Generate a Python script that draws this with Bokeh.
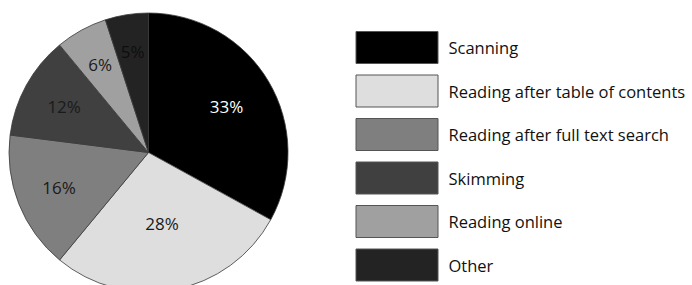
import math
from bokeh.plotting import figure
from bokeh.models import Range1d, ColumnDataSource
from bokeh.core.properties import value
from bokeh.embed import file_html
from bokeh.resources import INLINE

# ---- data ----
categories = ["Scanning", "Reading after table of contents", "Reading after full text search",
              "Skimming", "Reading online", "Other"]
shares = [33, 28, 16, 12, 6, 5]
colors = ["#000000", "#dedede", "#7f7f7f", "#404040", "#a0a0a0", "#232323"]
label_colors = ["#ffffff", "#1a1a1a", "#1a1a1a", "#1a1a1a", "#1a1a1a", "#0e0e0e"]

# ---- layout (pixel-like data units, y up) ----
W, H = 692, 285
p = figure(width=W, height=H, output_backend="svg", toolbar_location=None,
           x_range=Range1d(0, W), y_range=Range1d(0, H),
           min_border=0, outline_line_color=None)
p.axis.visible = False
p.grid.visible = False
p.background_fill_color = "white"
p.border_fill_color = "white"

cx, cy, R = 148, H - 152, 139.5
total = sum(shares)
starts, ends, mids = [], [], []
a = math.pi / 2
for s in shares:
    sweep = 2 * math.pi * s / total
    starts.append(a)
    ends.append(a - sweep)
    mids.append(a - sweep / 2)
    a -= sweep

src = ColumnDataSource(dict(start=starts, end=ends, color=colors))
p.wedge(x=cx, y=cy, radius=R, start_angle="start", end_angle="end", direction="clock",
        fill_color="color", line_color="#3a3a3a", line_width=0.8, source=src)

label_r = [0.65, 0.52, 0.69, 0.69, 0.72, 0.73]
lx = [cx + R * f * math.cos(m) for f, m in zip(label_r, mids)]
ly = [cy + R * f * math.sin(m) for f, m in zip(label_r, mids)]
p.text(x=lx, y=ly, text=[f"{s}%" for s in shares], text_color=label_colors,
       text_font=value("Open Sans"), text_font_size="17px",
       text_align="center", text_baseline="middle")

# legend
box_x0, box_x1 = 355.5, 437.5
top0, step, bh = H - 31, 43.5, 32
tops = [top0 - i * step for i in range(len(categories))]
p.quad(left=box_x0, right=box_x1, top=tops, bottom=[t - bh for t in tops],
       fill_color=colors, line_color="#555555", line_width=1)
p.text(x=448, y=[t - bh / 2 for t in tops], text=categories, text_color="#111111",
       text_font=value("Open Sans"), text_font_size="16.5px",
       text_align="left", text_baseline="middle")

open("out.html", "w").write(file_html(p, INLINE))
